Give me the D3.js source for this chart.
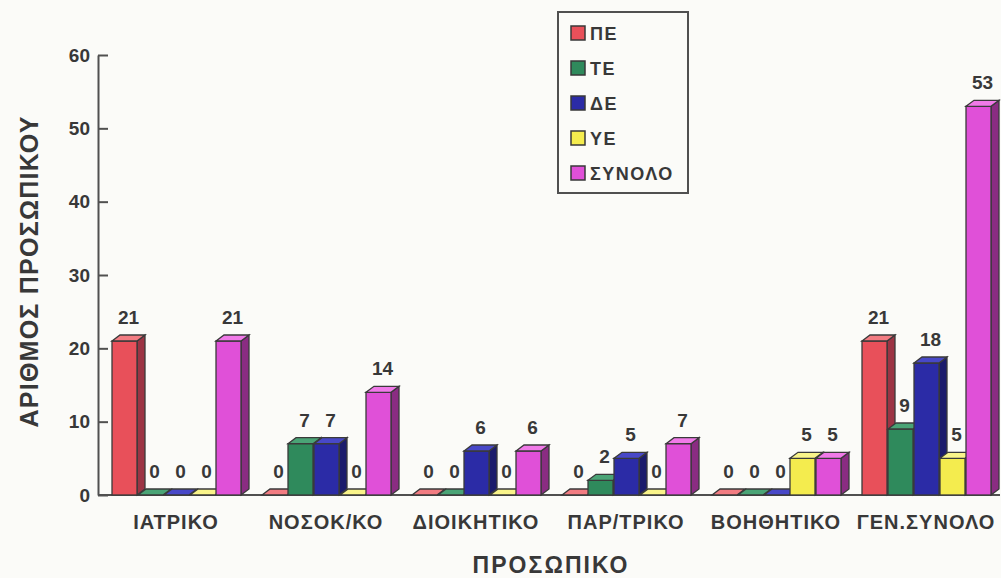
<!DOCTYPE html>
<html><head><meta charset="utf-8">
<script src="https://cdn.jsdelivr.net/npm/d3@7"></script>
<style>
html,body{margin:0;padding:0;background:#fbfbf8;}
svg{display:block;}
text{font-family:"Liberation Sans",Arial,sans-serif;font-weight:bold;fill:#383838;}
</style></head>
<body>
<svg id="chart" width="1001" height="578"></svg>
<script>
const categories = ["ΙΑΤΡΙΚΟ","ΝΟΣΟΚ/ΚΟ","ΔΙΟΙΚΗΤΙΚΟ","ΠΑΡ/ΤΡΙΚΟ","ΒΟΗΘΗΤΙΚΟ","ΓΕΝ.ΣΥΝΟΛΟ"];
const seriesNames = ["ΠΕ","ΤΕ","ΔΕ","ΥΕ","ΣΥΝΟΛΟ"];
const valuesPE = [21,0,0,0,0,21];
const valuesTE = [0,7,0,2,0,9];
const valuesDE = [0,7,6,5,0,18];
const valuesYE = [0,0,0,0,5,5];
const valuesTotal = [21,14,6,7,5,53];
const yTicks = [0,10,20,30,40,50,60];
const yTitle = "ΑΡΙΘΜΟΣ ΠΡΟΣΩΠΙΚΟΥ";
const xTitle = "ΠΡΟΣΩΠΙΚΟ";

const seriesValues = [valuesPE, valuesTE, valuesDE, valuesYE, valuesTotal];
const colors = [
  {front:"#e8505a", top:"#f27c82", side:"#9c3444"},
  {front:"#2f8a5c", top:"#4aa476", side:"#1f5a3e"},
  {front:"#2b2ba6", top:"#4848c8", side:"#1b1b6c"},
  {front:"#f4ec4e", top:"#f9f48a", side:"#b4aa30"},
  {front:"#e050d8", top:"#f07ae8", side:"#8a2c82"}
];

const svg = d3.select("#chart");
const stroke = "#3a3a3a";
const dx = 8, dy = 6;

const y = d3.scaleLinear().domain([0,60]).range([495,55]);
const x0 = d3.scaleBand().domain(categories).range([112,1012]).padding(0);
const x1 = d3.scaleBand().domain(seriesNames).range([0,130]).padding(0);
const fw = x1.bandwidth() - 1;

// Y axis
const yAxis = d3.axisLeft(y).tickValues(yTicks).tickSizeInner(-10).tickSizeOuter(0).tickPadding(8);
const ya = svg.append("g").attr("transform","translate(98,0)").call(yAxis);
ya.selectAll("path,line").attr("stroke","#505050").attr("stroke-width",2);
ya.selectAll("text").style("font-size","19px").style("font-family","'Liberation Sans',Arial,sans-serif").style("font-weight","bold").attr("fill","#383838");

// X axis baseline
svg.append("line").attr("x1",98).attr("x2",1000).attr("y1",y(0)).attr("y2",y(0))
  .attr("stroke","#505050").attr("stroke-width",2);

// Bars
categories.forEach((c, ci) => {
  const g = svg.append("g");
  seriesNames.forEach((s, si) => {
    const v = seriesValues[si][ci];
    const xl = x0(c) + x1(s);
    const xr = xl + fw;
    const yt = y(v), yb = y(0);
    const col = colors[si];
    if (v > 0) {
      g.append("path").attr("d",`M${xr},${yb}L${xr+dx},${yb-dy}L${xr+dx},${yt-dy}L${xr},${yt}Z`)
        .attr("fill",col.side).attr("stroke",stroke).attr("stroke-width",1.3);
      g.append("rect").attr("x",xl).attr("y",yt).attr("width",fw).attr("height",yb-yt)
        .attr("fill",col.front).attr("stroke",stroke).attr("stroke-width",1.3);
    }
    g.append("path").attr("d",`M${xl},${yt}L${xl+dx},${yt-dy}L${xr+dx},${yt-dy}L${xr},${yt}Z`)
      .attr("fill",col.top).attr("stroke",stroke).attr("stroke-width",1.3);
    g.append("text").attr("x",xl+fw/2+4).attr("y",yt-17)
      .attr("text-anchor","middle").style("font-size","19px").text(v);
  });
  svg.append("text").attr("x",x0(c)+64).attr("y",529).attr("text-anchor","middle")
    .style("font-size","20px").style("letter-spacing","1px").text(c);
});

// Axis titles
svg.append("text").attr("transform","translate(38,272) rotate(-90)").attr("text-anchor","middle")
  .style("font-size","25px").attr("fill","#505050").attr("textLength",311).attr("lengthAdjust","spacing").text(yTitle);
svg.append("text").attr("x",550).attr("y",573).attr("text-anchor","middle")
  .style("font-size","23px").attr("fill","#505050").attr("textLength",155).attr("lengthAdjust","spacing").text(xTitle);

// Legend
const lg = svg.append("g");
lg.append("rect").attr("x",558).attr("y",12).attr("width",130).attr("height",181)
  .attr("fill","none").attr("stroke","#505050").attr("stroke-width",2);
seriesNames.forEach((s, i) => {
  const cy = 33 + i*35;
  lg.append("rect").attr("x",571).attr("y",cy-7).attr("width",14).attr("height",14)
    .attr("fill",colors[i].front).attr("stroke","#383838").attr("stroke-width",1.5);
  lg.append("text").attr("x",590).attr("y",cy+7).style("font-size","18px").style("letter-spacing","1.5px").text(s);
});
</script>
</body></html>
